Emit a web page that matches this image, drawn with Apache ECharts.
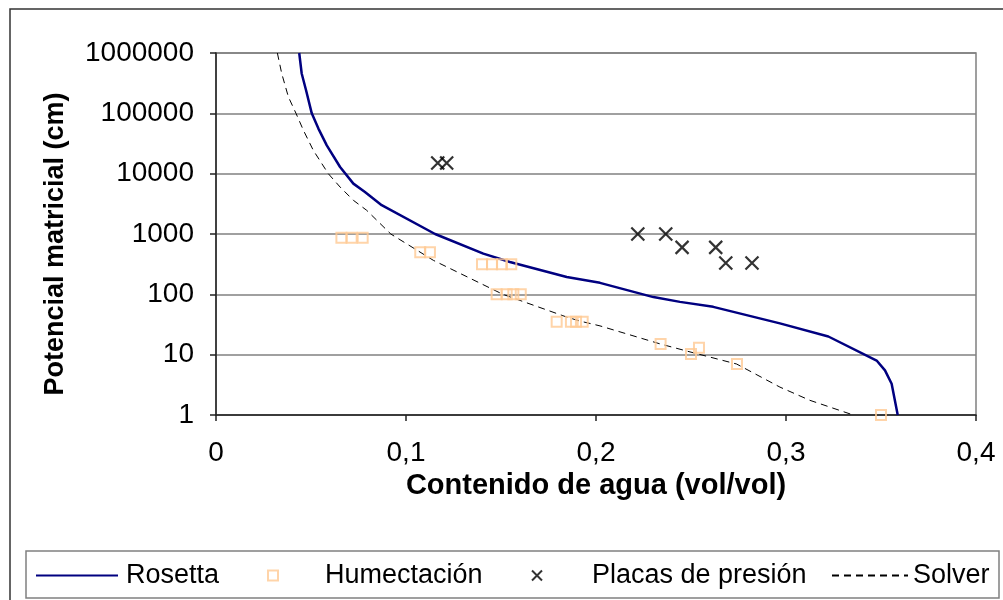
<!DOCTYPE html>
<html>
<head>
<meta charset="utf-8">
<script src="https://cdn.jsdelivr.net/npm/echarts@6/dist/echarts.min.js"></script>
<style>
  html, body { margin: 0; padding: 0; background: #fff; }
  #chart { width: 1003px; height: 600px; }
</style>
</head>
<body>
<div id="chart"></div>
<script>
// Retention curve: water content (vol/vol) vs matric potential (cm), log scale
const rosettaTheta = [0.0438, 0.0451, 0.0474, 0.0504, 0.0539, 0.0583, 0.0653, 0.0723, 0.0784, 0.0872,
                      0.1153, 0.1407, 0.1547, 0.1846, 0.2021, 0.2302, 0.2442, 0.2617, 0.2968, 0.3223,
                      0.3477, 0.3521, 0.3556, 0.3588];
const rosettaH     = [1000000, 457000, 241000, 100000, 55800, 29500, 12900, 6840, 4980, 3000,
                      1000, 473, 344, 194, 155, 90, 75, 62, 33, 20,
                      8, 5.5, 3.3, 1];

const solverTheta = [0.0323, 0.0346, 0.0381, 0.0421, 0.0460, 0.0512, 0.0591, 0.0653, 0.0723, 0.0793,
                     0.0920, 0.1144, 0.1510, 0.1846, 0.1916, 0.2021, 0.2340, 0.2500, 0.2740, 0.2968,
                     0.3126, 0.3354];
const solverH     = [1000000, 456000, 187000, 100000, 52400, 24400, 10000, 6010, 3620, 2470,
                     1000, 366, 100, 42, 36, 30, 15, 11, 7, 2.9,
                     1.75, 1];

const humectTheta = [0.066, 0.0714, 0.0772, 0.1075, 0.1126, 0.140, 0.1453, 0.1505, 0.1554,
                     0.1477, 0.153, 0.1565, 0.1604, 0.1793, 0.1868, 0.1895, 0.193,
                     0.234, 0.250, 0.2542, 0.2742, 0.350];
const humectH     = [870, 870, 870, 500, 500, 316, 316, 316, 316,
                     100, 100, 100, 100, 35, 35, 35, 35,
                     15, 10.3, 13, 7, 1];

const placasTheta = [0.1167, 0.1214, 0.222, 0.2367, 0.2453, 0.263, 0.2683, 0.2821];
const placasH     = [15000, 15000, 1000, 1000, 600, 600, 330, 330];

const xTickLabels = ['0', '0,1', '0,2', '0,3', '0,4'];
const yTickLabels = ['1', '10', '100', '1000', '10000', '100000', '1000000'];

const seriesNames = ['Rosetta', 'Humectación', 'Placas de presión', 'Solver'];

function zip(xs, ys) { return xs.map((x, i) => [x, ys[i]]); }

const FONT = "'Liberation Sans', Arial, sans-serif";
const CROSS = 'path://M0,0L10,10M10,0L0,10';

const chart = echarts.init(document.getElementById('chart'), null, { renderer: 'canvas' });

// one legend block per entry so each sits where it belongs inside the box
function legendAt(name, left, itemWidth, itemHeight, padLeft, lineOnly) {
  const lg = {
    data: [name],
    left: left,
    top: 562,
    orient: 'horizontal',
    itemWidth: itemWidth,
    itemHeight: itemHeight,
    padding: 0,
    selectedMode: false,
    textStyle: { fontFamily: FONT, fontSize: 27, color: '#000', padding: [0, 0, 0, padLeft] }
  };
  if (lineOnly) lg.itemStyle = { opacity: 0 };
  return lg;
}

chart.setOption({
  animation: false,
  backgroundColor: '#fff',
  textStyle: { fontFamily: FONT },
  graphic: [
    { type: 'rect', z: -10, shape: { x: 10, y: 9, width: 1010, height: 620 },
      style: { fill: '#fff', stroke: '#333', lineWidth: 1.5 } },
    { type: 'rect', z: -5, shape: { x: 26, y: 551, width: 973, height: 47 },
      style: { fill: '#fff', stroke: '#808080', lineWidth: 1.5 } }
  ],
  grid: {
    left: 216, top: 53, width: 760, height: 362,
    show: true, borderColor: '#808080', borderWidth: 1.5, backgroundColor: 'transparent'
  },
  legend: [
    legendAt(seriesNames[0], 35, 82, 14, 3, true),
    legendAt(seriesNames[1], 267, 10, 10, 42, false),
    legendAt(seriesNames[2], 531, 10, 10, 45, false),
    legendAt(seriesNames[3], 831, 76, 14, 0, true)
  ],
  xAxis: {
    type: 'value',
    min: 0, max: 0.4, interval: 0.1,
    name: 'Contenido de agua (vol/vol)',
    nameLocation: 'middle',
    nameGap: 46,
    nameTextStyle: { fontFamily: FONT, fontSize: 29, fontWeight: 'bold', color: '#000' },
    axisLine: { show: true, onZero: false, lineStyle: { color: '#222', width: 1.5 } },
    axisTick: { show: true, length: 6, lineStyle: { color: '#222', width: 1.5 } },
    axisLabel: {
      margin: 24, fontSize: 28, color: '#000', fontFamily: FONT,
      formatter: v => xTickLabels[Math.round(v * 10)]
    },
    splitLine: { show: false }
  },
  yAxis: {
    type: 'log',
    logBase: 10,
    min: 1, max: 1000000,
    splitNumber: 6,
    name: 'Potencial matricial (cm)',
    nameLocation: 'middle',
    nameGap: 147,
    nameTextStyle: { fontFamily: FONT, fontSize: 27, fontWeight: 'bold', color: '#000', padding: [0, 20, 0, 0] },
    axisLine: { show: true, onZero: false, lineStyle: { color: '#222', width: 1.5 } },
    axisTick: { show: true, length: 6, lineStyle: { color: '#222', width: 1.5 } },
    axisLabel: {
      margin: 22, fontSize: 28, color: '#000', fontFamily: FONT,
      formatter: v => yTickLabels[Math.round(Math.log10(v))]
    },
    splitLine: { show: true, lineStyle: { color: '#808080', width: 1.5 } }
  },
  series: [
    {
      name: seriesNames[0], type: 'line', data: zip(rosettaTheta, rosettaH),
      showSymbol: false, symbol: 'none', smooth: false, z: 3,
      lineStyle: { color: '#000080', width: 2.5 }, itemStyle: { color: '#000080' }
    },
    {
      name: seriesNames[1], type: 'scatter', data: zip(humectTheta, humectH),
      symbol: 'rect', symbolSize: 10, z: 4,
      itemStyle: { color: 'rgba(255,255,255,0)', borderColor: '#FFC993', borderWidth: 2 }
    },
    {
      name: seriesNames[2], type: 'scatter', data: zip(placasTheta, placasH),
      symbol: CROSS, symbolSize: 13, z: 4,
      itemStyle: { color: '#000', borderColor: '#000', borderWidth: 2.2 }
    },
    {
      name: seriesNames[3], type: 'line', data: zip(solverTheta, solverH),
      showSymbol: false, symbol: 'none', smooth: false, z: 2,
      lineStyle: { color: '#000', width: 1, type: [7, 5] }, itemStyle: { color: '#000' }
    }
  ]
});
</script>
</body>
</html>
